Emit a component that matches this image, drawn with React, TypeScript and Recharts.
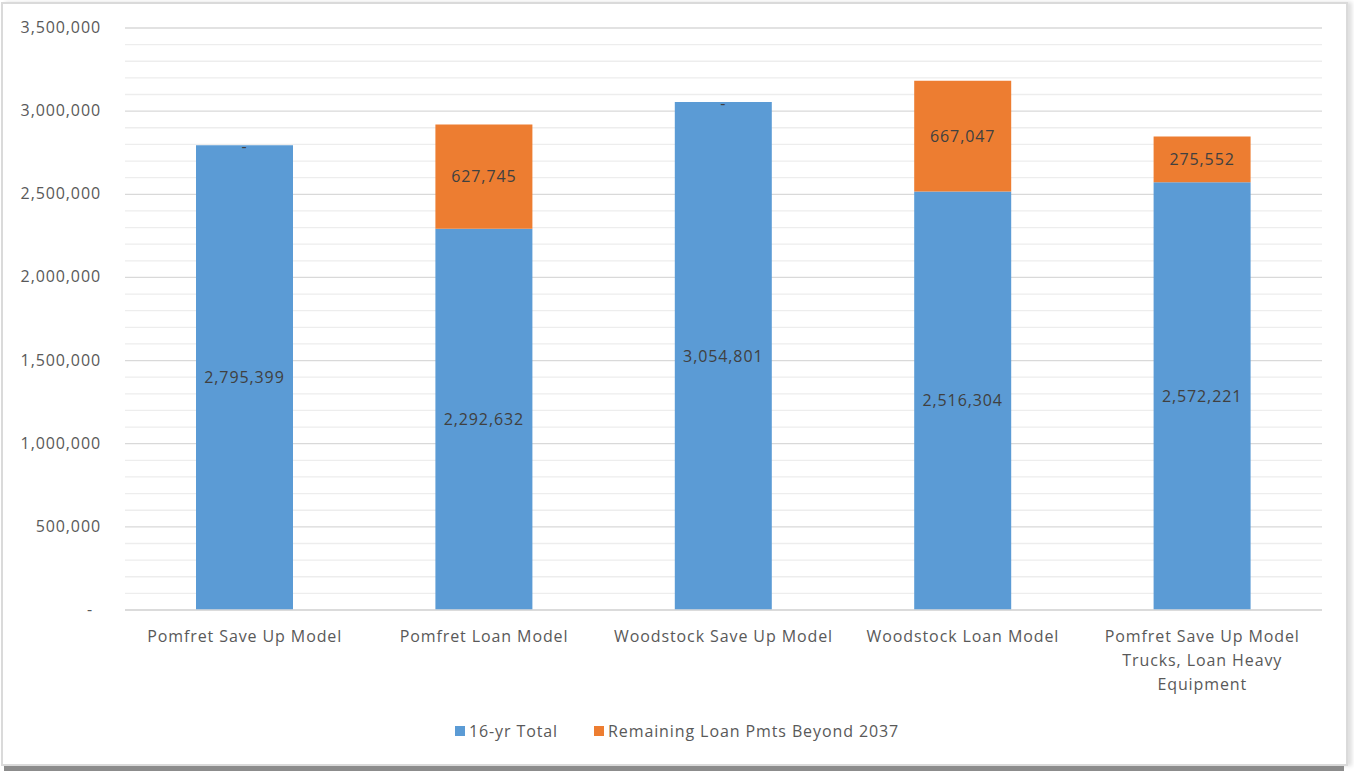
import { BarChart, Bar, XAxis, YAxis, CartesianGrid, Legend, LabelList, Text } from 'recharts';

const CATEGORIES = [
  'Pomfret Save Up Model',
  'Pomfret Loan Model',
  'Woodstock Save Up Model',
  'Woodstock Loan Model',
  'Pomfret Save Up Model Trucks, Loan Heavy Equipment',
];
const TOTAL_16YR = [2795399, 2292632, 3054801, 2516304, 2572221];
const REMAINING_LOAN = [0, 627745, 0, 667047, 275552];
const SERIES_NAMES = ['16-yr Total', 'Remaining Loan Pmts Beyond 2037'];
// every 100k for the minor gridlines, labels only on the 500k ones
const Y_TICKS = Array.from({ length: 36 }, (_, i) => i * 100000);

const COLORS = {
  blue: '#5B9BD5',
  orange: '#ED7D31',
  text: '#595959',
  label: '#404040',
  major: '#D9D9D9',
  minor: '#EDEDED',
};
const FONT = '"Open Sans", sans-serif';
const TEXT_STYLE = { fontSize: 16, fontFamily: FONT, letterSpacing: 0.9 };

const data = CATEGORIES.map((name, i) => ({
  name,
  total: TOTAL_16YR[i],
  remaining: REMAINING_LOAN[i],
}));

const fmt = (v: number) => (v === 0 ? '-' : v.toLocaleString('en-US'));
// Excel shows "-" for the empty orange segment, sitting on top of the blue bar
const zeroDash = (v: number) => (v === 0 ? '-' : '');
const nonZero = (v: number) => (v === 0 ? '' : fmt(v));

function YTick({ x, y, payload }: any) {
  const v = payload.value as number;
  if (v % 500000 !== 0) return null;
  return (
    <text
      x={v === 0 ? x - 24 : x - 16}
      y={y}
      dy={5}
      textAnchor="end"
      fill={COLORS.text}
      style={TEXT_STYLE}
    >
      {fmt(v)}
    </text>
  );
}

function XTick({ x, y, payload }: any) {
  return (
    <Text
      x={x}
      y={y}
      dy={13}
      width={210}
      textAnchor="middle"
      verticalAnchor="start"
      lineHeight={24}
      fill={COLORS.text}
      style={TEXT_STYLE}
    >
      {payload.value}
    </Text>
  );
}

function GridLine(props: any) {
  const { x1, y1, x2, y2, index } = props;
  return (
    <line
      x1={x1}
      y1={y1}
      x2={x2}
      y2={y2}
      stroke={index % 5 === 0 ? COLORS.major : COLORS.minor}
      strokeWidth={1.3}
    />
  );
}

function LegendContent() {
  const items = [
    { name: SERIES_NAMES[0], color: COLORS.blue },
    { name: SERIES_NAMES[1], color: COLORS.orange },
  ];
  return (
    <div
      style={{
        display: 'flex',
        justifyContent: 'center',
        alignItems: 'center',
        height: 40,
        gap: 36,
        color: COLORS.text,
        ...TEXT_STYLE,
      }}
    >
      {items.map((it) => (
        <div key={it.name} style={{ display: 'flex', alignItems: 'center' }}>
          <span style={{ width: 10, height: 10, background: it.color, marginRight: 4 }} />
          <span>{it.name}</span>
        </div>
      ))}
    </div>
  );
}

export default function App() {
  return (
    <div style={{ position: 'absolute', left: 0, top: 0, width: 1354, height: 771, background: '#fff' }}>
      {/* frame + shadow like the pasted screenshot */}
      <div
        style={{
          position: 'absolute',
          left: 1,
          top: 2,
          width: 1343,
          height: 760,
          border: '2px solid #DADADA',
          boxShadow: '4px 0 4px #E0E0E0',
        }}
      />
      <div style={{ position: 'absolute', left: 4, top: 766, width: 1340, height: 5, background: '#8C8C8C' }} />
      <div style={{ position: 'absolute', left: 0, top: 0 }}>
        <BarChart
          width={1354}
          height={771}
          data={data}
          margin={{ top: 28, right: 32, left: 0, bottom: 20 }}
        >
          <CartesianGrid vertical={false} horizontal={GridLine} />
          <XAxis
            dataKey="name"
            axisLine={{ stroke: COLORS.major, strokeWidth: 1.3 }}
            tickLine={false}
            height={101}
            interval={0}
            tick={<XTick />}
          />
          <YAxis
            width={125}
            domain={[0, 3500000]}
            ticks={Y_TICKS}
            interval={0}
            axisLine={false}
            tickLine={false}
            tick={<YTick />}
          />
          <Legend
            verticalAlign="bottom"
            height={40}
            wrapperStyle={{ left: 0, width: 1354 }}
            content={<LegendContent />}
          />
          <Bar dataKey="total" name={SERIES_NAMES[0]} stackId="a" fill={COLORS.blue} barSize={97} isAnimationActive={false}>
            <LabelList dataKey="total" position="center" formatter={fmt} fill={COLORS.label} style={TEXT_STYLE} />
            <LabelList dataKey="remaining" position="top" offset={-7} formatter={zeroDash} fill={COLORS.label} style={TEXT_STYLE} />
          </Bar>
          <Bar dataKey="remaining" name={SERIES_NAMES[1]} stackId="a" fill={COLORS.orange} barSize={97} isAnimationActive={false}>
            <LabelList dataKey="remaining" position="center" formatter={nonZero} fill={COLORS.label} style={TEXT_STYLE} />
          </Bar>
        </BarChart>
      </div>
    </div>
  );
}
